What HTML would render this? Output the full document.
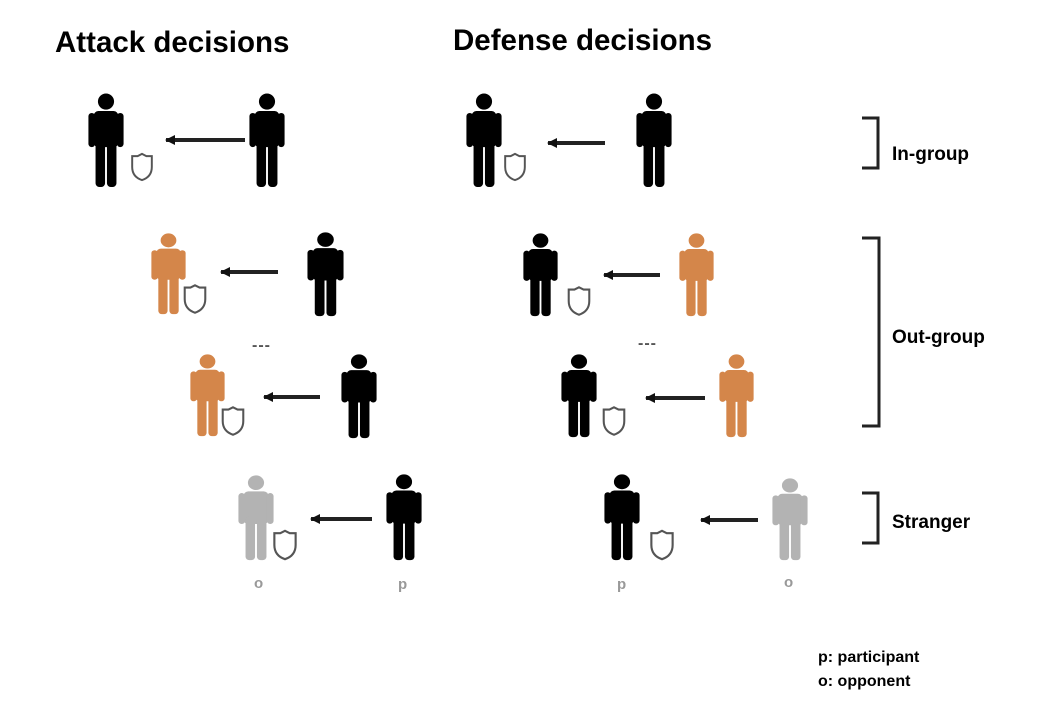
<!DOCTYPE html>
<html><head><meta charset="utf-8"><style>
body{margin:0;background:#fff;}
svg{display:block;}
.t{font-family:"Liberation Sans",sans-serif;font-weight:bold;}
</style></head><body>
<svg width="1047" height="719" viewBox="0 0 1047 719" xmlns="http://www.w3.org/2000/svg">
<defs>
<symbol id="p" viewBox="0 0 40 100" preserveAspectRatio="none">
<circle cx="20" cy="9" r="8.5"/>
<rect x="7" y="19" width="26" height="38" rx="5"/>
<rect x="1.5" y="21" width="7" height="36" rx="3.5"/>
<rect x="31.5" y="21" width="7" height="36" rx="3.5"/>
<rect x="9" y="48" width="10" height="51" rx="4"/>
<rect x="21" y="48" width="10" height="51" rx="4"/>
</symbol>
<symbol id="s" viewBox="0 0 22 28">
<path d="M11 2 L15 4 L20 4 L20 14 Q20 23 11 26 Q2 23 2 14 L2 4 L7 4 Z" fill="#fff" stroke="#555" stroke-width="1.8"/>
</symbol>
<marker id="a" markerWidth="10" markerHeight="10" refX="1" refY="5" orient="auto" markerUnits="userSpaceOnUse">
<path d="M10 0 L0 5 L10 10 Z" fill="#111"/>
</marker>
</defs>
<text class="t" x="55" y="52" font-size="29.5">Attack decisions</text>
<text class="t" x="453" y="50" font-size="29.5">Defense decisions</text>

<g stroke="#222" stroke-width="4" marker-start="url(#a)">
<line x1="166" y1="140" x2="245" y2="140"/>
<line x1="548" y1="143" x2="605" y2="143"/>
<line x1="221" y1="272" x2="278" y2="272"/>
<line x1="604" y1="275" x2="660" y2="275"/>
<line x1="264" y1="397" x2="320" y2="397"/>
<line x1="646" y1="398" x2="705" y2="398"/>
<line x1="311" y1="519" x2="372" y2="519"/>
<line x1="701" y1="520" x2="758" y2="520"/>
</g>

<use href="#p" x="87" y="93" width="38" height="95" fill="#000"/>
<use href="#s" x="130" y="150" width="24" height="34"/>
<use href="#p" x="248" y="93" width="38" height="95" fill="#000"/>

<use href="#p" x="465" y="93" width="38" height="95" fill="#000"/>
<use href="#s" x="503" y="150" width="24" height="34"/>
<use href="#p" x="635" y="93" width="38" height="95" fill="#000"/>

<use href="#p" x="150" y="233" width="37" height="82" fill="#d4864a"/>
<use href="#s" x="182" y="283" width="26" height="32"/>
<use href="#p" x="306" y="232" width="39" height="85" fill="#000"/>

<use href="#p" x="522" y="233" width="37" height="84" fill="#000"/>
<use href="#s" x="566" y="285" width="26" height="32"/>
<use href="#p" x="678" y="233" width="37" height="84" fill="#d4864a"/>

<text x="252" y="350" font-size="16" fill="#555" class="t" letter-spacing="1">---</text>
<text x="638" y="348" font-size="16" fill="#555" class="t" letter-spacing="1">---</text>

<use href="#p" x="189" y="354" width="37" height="83" fill="#d4864a"/>
<use href="#s" x="220" y="405" width="26" height="32"/>
<use href="#p" x="340" y="354" width="38" height="85" fill="#000"/>

<use href="#p" x="560" y="354" width="38" height="84" fill="#000"/>
<use href="#s" x="601" y="405" width="26" height="32"/>
<use href="#p" x="718" y="354" width="37" height="84" fill="#d4864a"/>

<use href="#p" x="237" y="475" width="38" height="86" fill="#b3b3b3"/>
<use href="#s" x="272" y="528" width="26" height="34"/>
<use href="#p" x="385" y="474" width="38" height="87" fill="#000"/>

<use href="#p" x="603" y="474" width="38" height="87" fill="#000"/>
<use href="#s" x="649" y="528" width="26" height="34"/>
<use href="#p" x="771" y="478" width="38" height="83" fill="#b3b3b3"/>

<g class="t" font-size="15" fill="#999">
<text x="254" y="588">o</text>
<text x="398" y="589">p</text>
<text x="617" y="589">p</text>
<text x="784" y="587">o</text>
</g>

<g fill="none" stroke="#222" stroke-width="3">
<path d="M862 118 H878 V168 H862"/>
<path d="M862 238 H879 V426 H862"/>
<path d="M862 493 H878 V543 H862"/>
</g>
<g class="t" font-size="19" fill="#000">
<text x="892" y="160">In-group</text>
<text x="892" y="343">Out-group</text>
<text x="892" y="528">Stranger</text>
</g>
<g class="t" font-size="16" fill="#000">
<text x="818" y="662">p: participant</text>
<text x="818" y="686">o: opponent</text>
</g>
</svg>
</body></html>
